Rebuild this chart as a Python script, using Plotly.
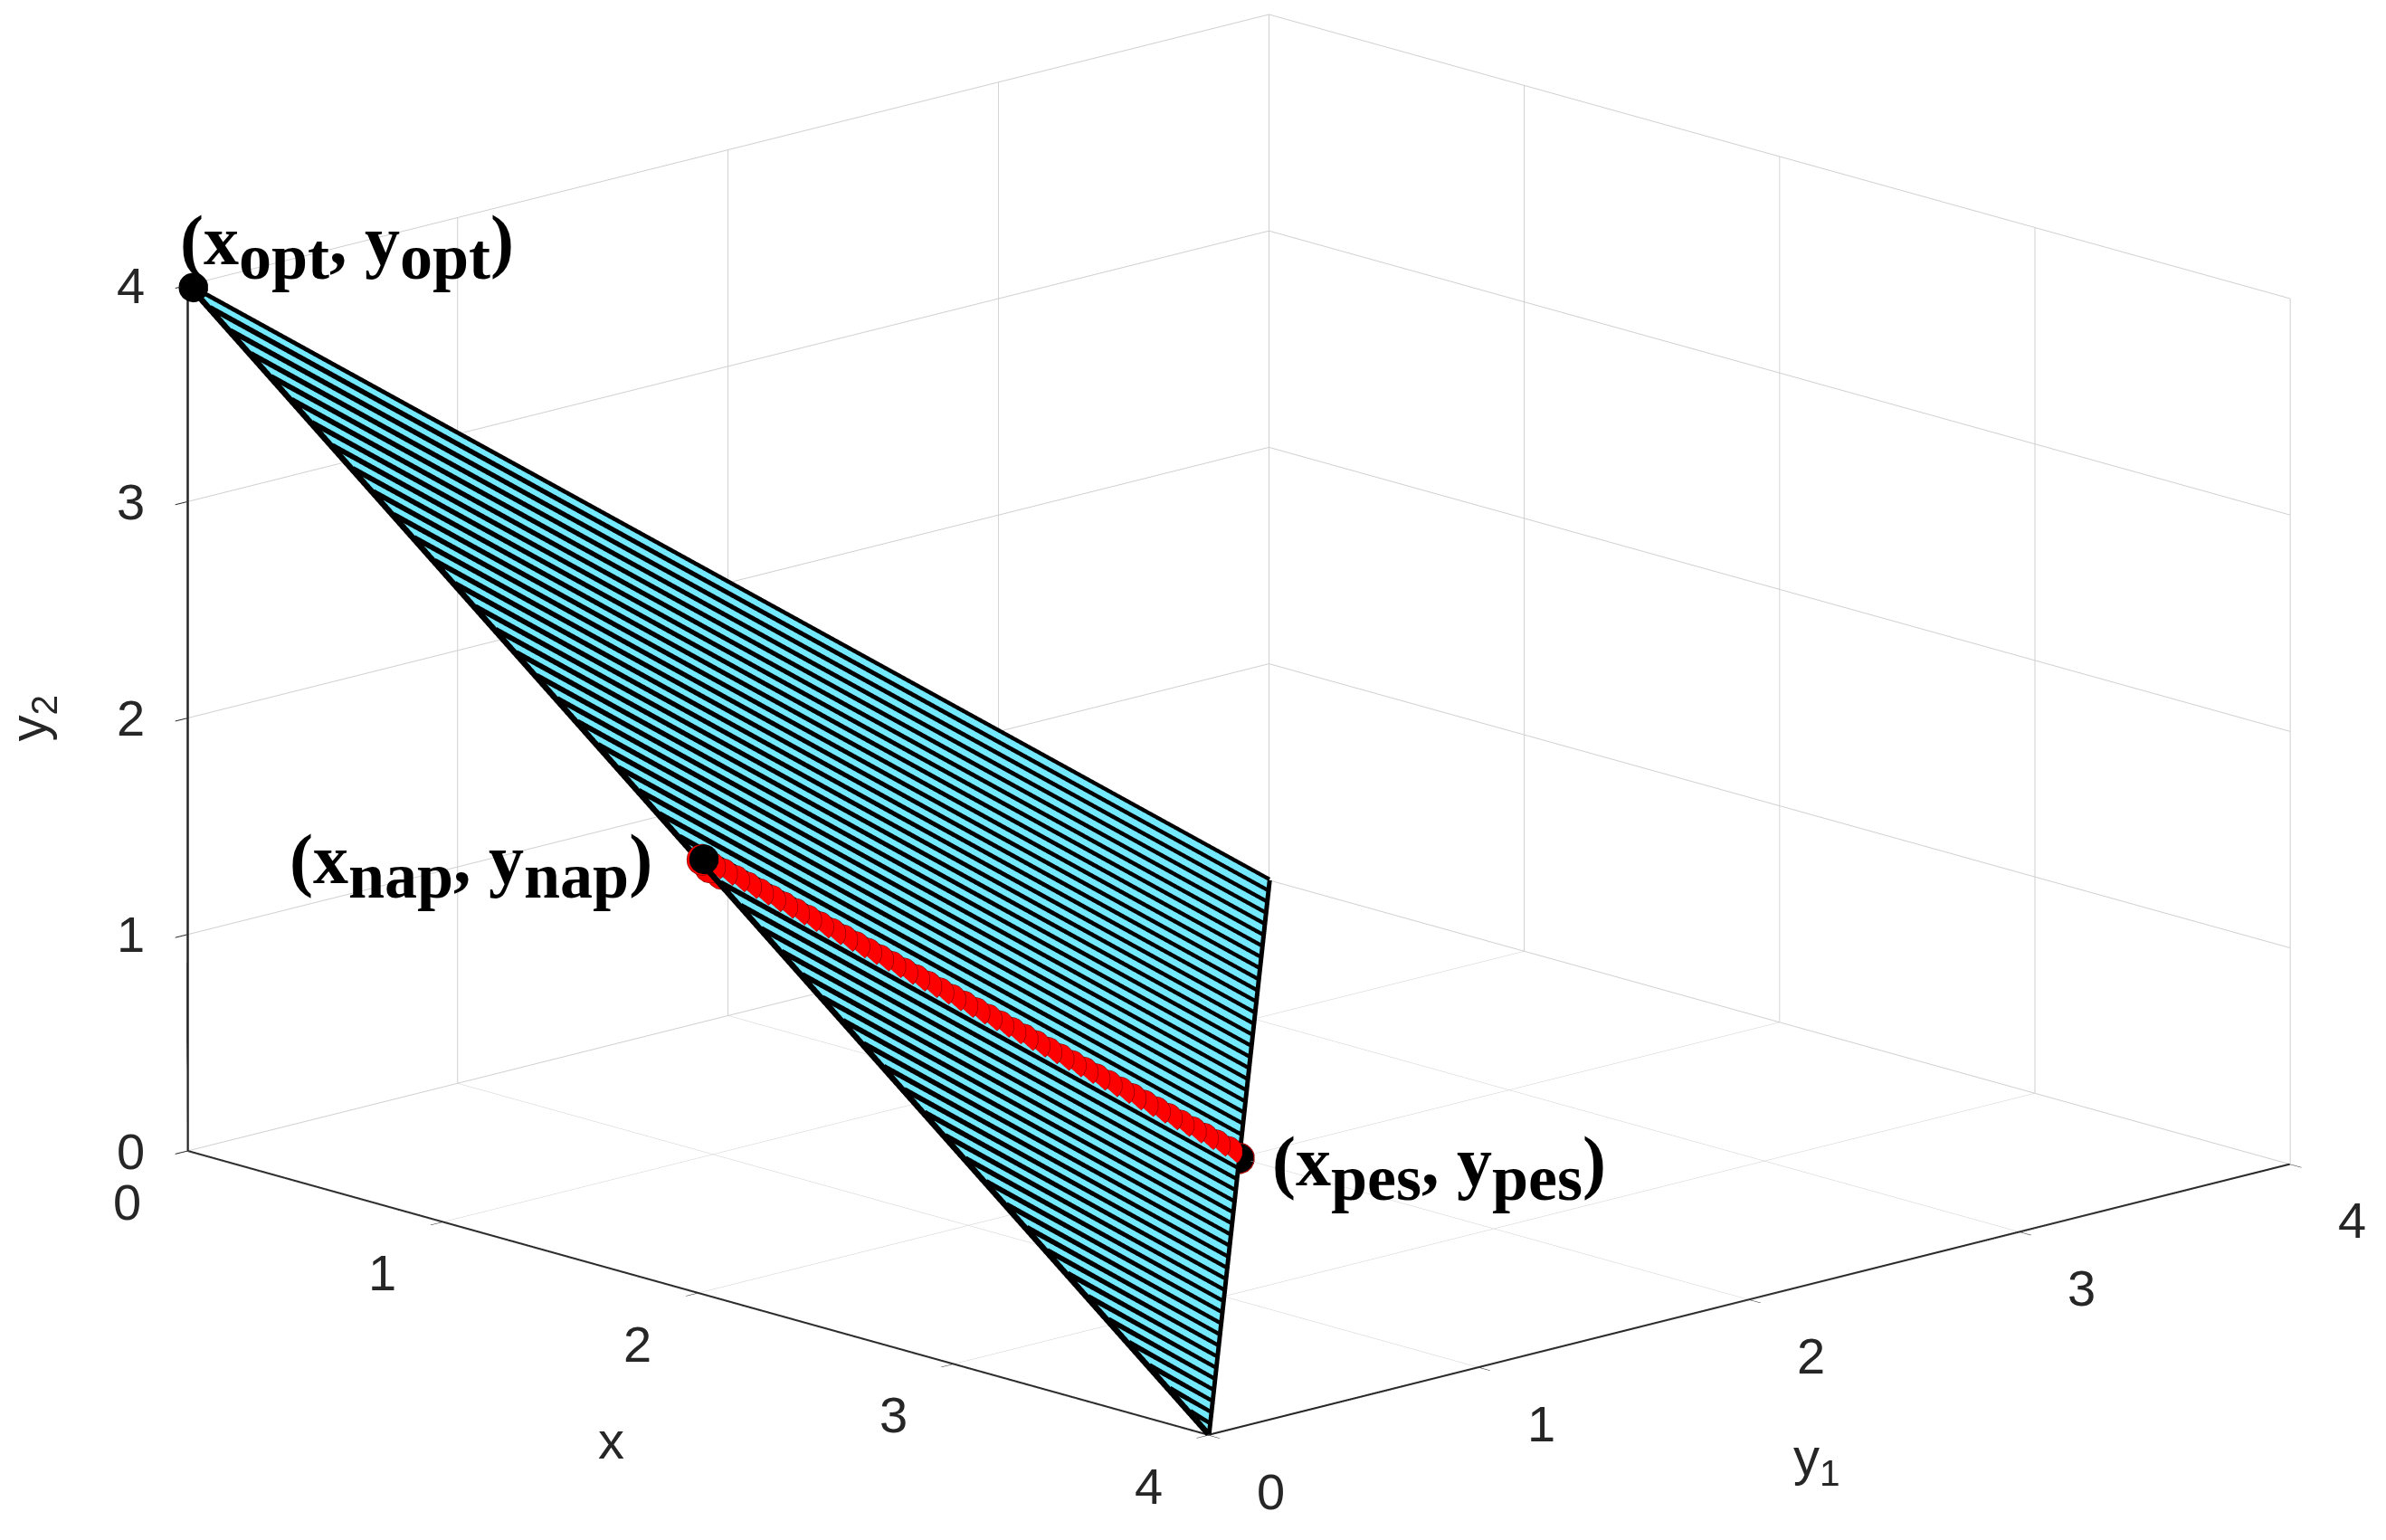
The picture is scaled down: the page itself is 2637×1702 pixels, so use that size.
import numpy as np
import plotly.graph_objects as go

# ---- data ----
tri_x = [0, 4, 0]
tri_y1 = [0, 0, 4]
tri_y2 = [4, 0, 0]

pt_labels = ["opt", "nap", "pes"]
pt_x = [0, 2, 2]
pt_y1 = [0, 0, 2]
pt_y2 = [4, 2, 0]

tick_vals = [0, 1, 2, 3, 4]
tick_text = ["0", "1", "2", "3", "4"]
ax_lo, ax_hi = 0, 4

n_hatch = 50      # mesh density of the plane
n_path = 46       # points on the red segment

# ---- view ----
aspect = dict(x=2.05, y=2.06, z=1.24)
view_dir = np.array([0.700, -0.664, 0.2595])          # in scaled scene space
eye = view_dir / np.linalg.norm(view_dir) * 2.0
toward = view_dir / np.array([aspect["x"], aspect["y"], aspect["z"]])
toward = toward / np.linalg.norm(toward)              # toward camera, data space


def lift(pts, amount):
    """nudge points toward the camera, kept inside the axis box"""
    return np.clip(np.asarray(pts, float) + toward * amount, ax_lo, ax_hi)


def polyline(segments, amount):
    xs, ys, zs = [], [], []
    for P, Q in segments:
        p, q = lift(P, amount), lift(Q, amount)
        xs += [p[0], q[0], None]
        ys += [p[1], q[1], None]
        zs += [p[2], q[2], None]
    return xs, ys, zs


# ---- figure ----
fig = go.Figure()

fig.add_trace(go.Mesh3d(
    x=tri_x, y=tri_y1, z=tri_y2, i=[0], j=[1], k=[2],
    color="#74E8FC", opacity=1, flatshading=True,
    lighting=dict(ambient=1, diffuse=0, specular=0, fresnel=0),
    hoverinfo="skip", showscale=False))

# front axis edges (x, y1 and y2 axis lines)
O = np.array([ax_lo, ax_lo, ax_lo], float)
edges = [(O, np.array([ax_hi, ax_lo, ax_lo], float)),
         (np.array([ax_hi, ax_lo, ax_lo], float), np.array([ax_hi, ax_hi, ax_lo], float)),
         (O, np.array([ax_lo, ax_lo, ax_hi], float))]
ex, ey, ez = polyline(edges, 0.006)
fig.add_trace(go.Scatter3d(x=ex, y=ey, z=ez, mode="lines",
                           line=dict(color="#262626", width=3),
                           hoverinfo="skip", showlegend=False))

# hatch lines of constant x on plane x + y1 + y2 = 4
A = np.array([tri_x[0], tri_y1[0], tri_y2[0]], float)
B = np.array([tri_x[1], tri_y1[1], tri_y2[1]], float)
C = np.array([tri_x[2], tri_y1[2], tri_y2[2]], float)
segs = [(A + t * (B - A), C + t * (B - C)) for t in np.linspace(0, 1, n_hatch + 1)]
segs += [(A, B), (A, C), (C, B)]
hx, hy, hz = polyline(segs, 0.012)
fig.add_trace(go.Scatter3d(x=hx, y=hy, z=hz, mode="lines",
                           line=dict(color="black", width=13),
                           hoverinfo="skip", showlegend=False))

# red segment between nap and pes
P0 = np.array([pt_x[1], pt_y1[1], pt_y2[1]], float)
P1 = np.array([pt_x[2], pt_y1[2], pt_y2[2]], float)
s = np.linspace(0, 1, n_path)
seg = lift(P0[None, :] + s[:, None] * (P1 - P0)[None, :], 0.025)
fig.add_trace(go.Scatter3d(x=seg[:, 0], y=seg[:, 1], z=seg[:, 2],
                           mode="lines+markers",
                           line=dict(color="red", width=4),
                           marker=dict(size=20, color="red", symbol="circle",
                                       line=dict(color="#600000", width=1)),
                           hoverinfo="skip", showlegend=False))

pts = lift(np.array([pt_x, pt_y1, pt_y2], float).T, 0.035)
fig.add_trace(go.Scatter3d(x=pts[:, 0], y=pts[:, 1], z=pts[:, 2], mode="markers",
                           marker=dict(size=19, color="black"),
                           hoverinfo="skip", showlegend=False))

lab_font = dict(family="Liberation Serif", size=78, color="black")
def lab(name):
    sub = "<sub><span style='font-size:72px'>%s</span></sub>" % name
    return "<b>(x%s, y%s)</b>" % (sub, sub)

anns = [
    dict(x=pt_x[0], y=pt_y1[0], z=pt_y2[0], text=lab(pt_labels[0]), showarrow=False,
         xanchor="left", yanchor="middle", xshift=-10, yshift=42, font=lab_font),
    dict(x=pt_x[1], y=pt_y1[1], z=pt_y2[1], text=lab(pt_labels[1]), showarrow=False,
         xanchor="right", yanchor="middle", xshift=-48, yshift=-6, font=lab_font),
    dict(x=pt_x[2], y=pt_y1[2], z=pt_y2[2], text=lab(pt_labels[2]), showarrow=False,
         xanchor="left", yanchor="middle", xshift=35, yshift=-12, font=lab_font),
]

tick_font = dict(family="Liberation Sans", size=56, color="#262626")
for v, t in zip(tick_vals, tick_text):
    anns.append(dict(x=0, y=0, z=v, text=t, showarrow=False, xanchor="center",
                     yanchor="middle", xshift=-62, yshift=0, font=tick_font))
    anns.append(dict(x=v, y=0, z=0, text=t, showarrow=False, xanchor="center",
                     yanchor="middle", xshift=-66, yshift=-56, font=tick_font))
    anns.append(dict(x=4, y=v, z=0, text=t, showarrow=False, xanchor="center",
                     yanchor="middle", xshift=69, yshift=-62, font=tick_font))

title_font = dict(family="Liberation Sans", size=58, color="#262626")
anns += [
    dict(x=2, y=0, z=0, text="x", showarrow=False, xanchor="center", yanchor="middle",
         xshift=-95, yshift=-162, font=title_font),
    dict(x=4, y=2, z=0, text="y<sub>1</sub>", showarrow=False, xanchor="center",
         yanchor="middle", xshift=75, yshift=-178, font=title_font),
    dict(x=0, y=0, z=2, text="y<sub>2</sub>", showarrow=False, xanchor="center",
         yanchor="middle", xshift=-172, yshift=0, textangle=-90, font=title_font),
]

axis_common = dict(range=[ax_lo, ax_hi], tickvals=tick_vals, showticklabels=False,
                   showbackground=False, gridcolor="#cfcfcf", gridwidth=2,
                   showline=True, linecolor="#262626", linewidth=3,
                   zeroline=False, showspikes=False,
                   ticks="outside", ticklen=18, tickwidth=2, tickcolor="#262626",
                   title=dict(text=""))

fig.update_layout(
    width=2637, height=1702,
    margin=dict(l=0, r=0, t=0, b=0),
    paper_bgcolor="white",
    showlegend=False,
    scene=dict(
        domain=dict(x=[0.036, 0.996], y=[0.06, 1.0]),
        xaxis=axis_common,
        yaxis=axis_common,
        zaxis=axis_common,
        aspectmode="manual", aspectratio=aspect,
        camera=dict(eye=dict(x=eye[0], y=eye[1], z=eye[2]),
                    up=dict(x=0, y=0, z=1),
                    center=dict(x=0, y=0, z=-0.009),
                    projection=dict(type="orthographic")),
        annotations=anns,
    ),
)

fig.write_html("out.html")
